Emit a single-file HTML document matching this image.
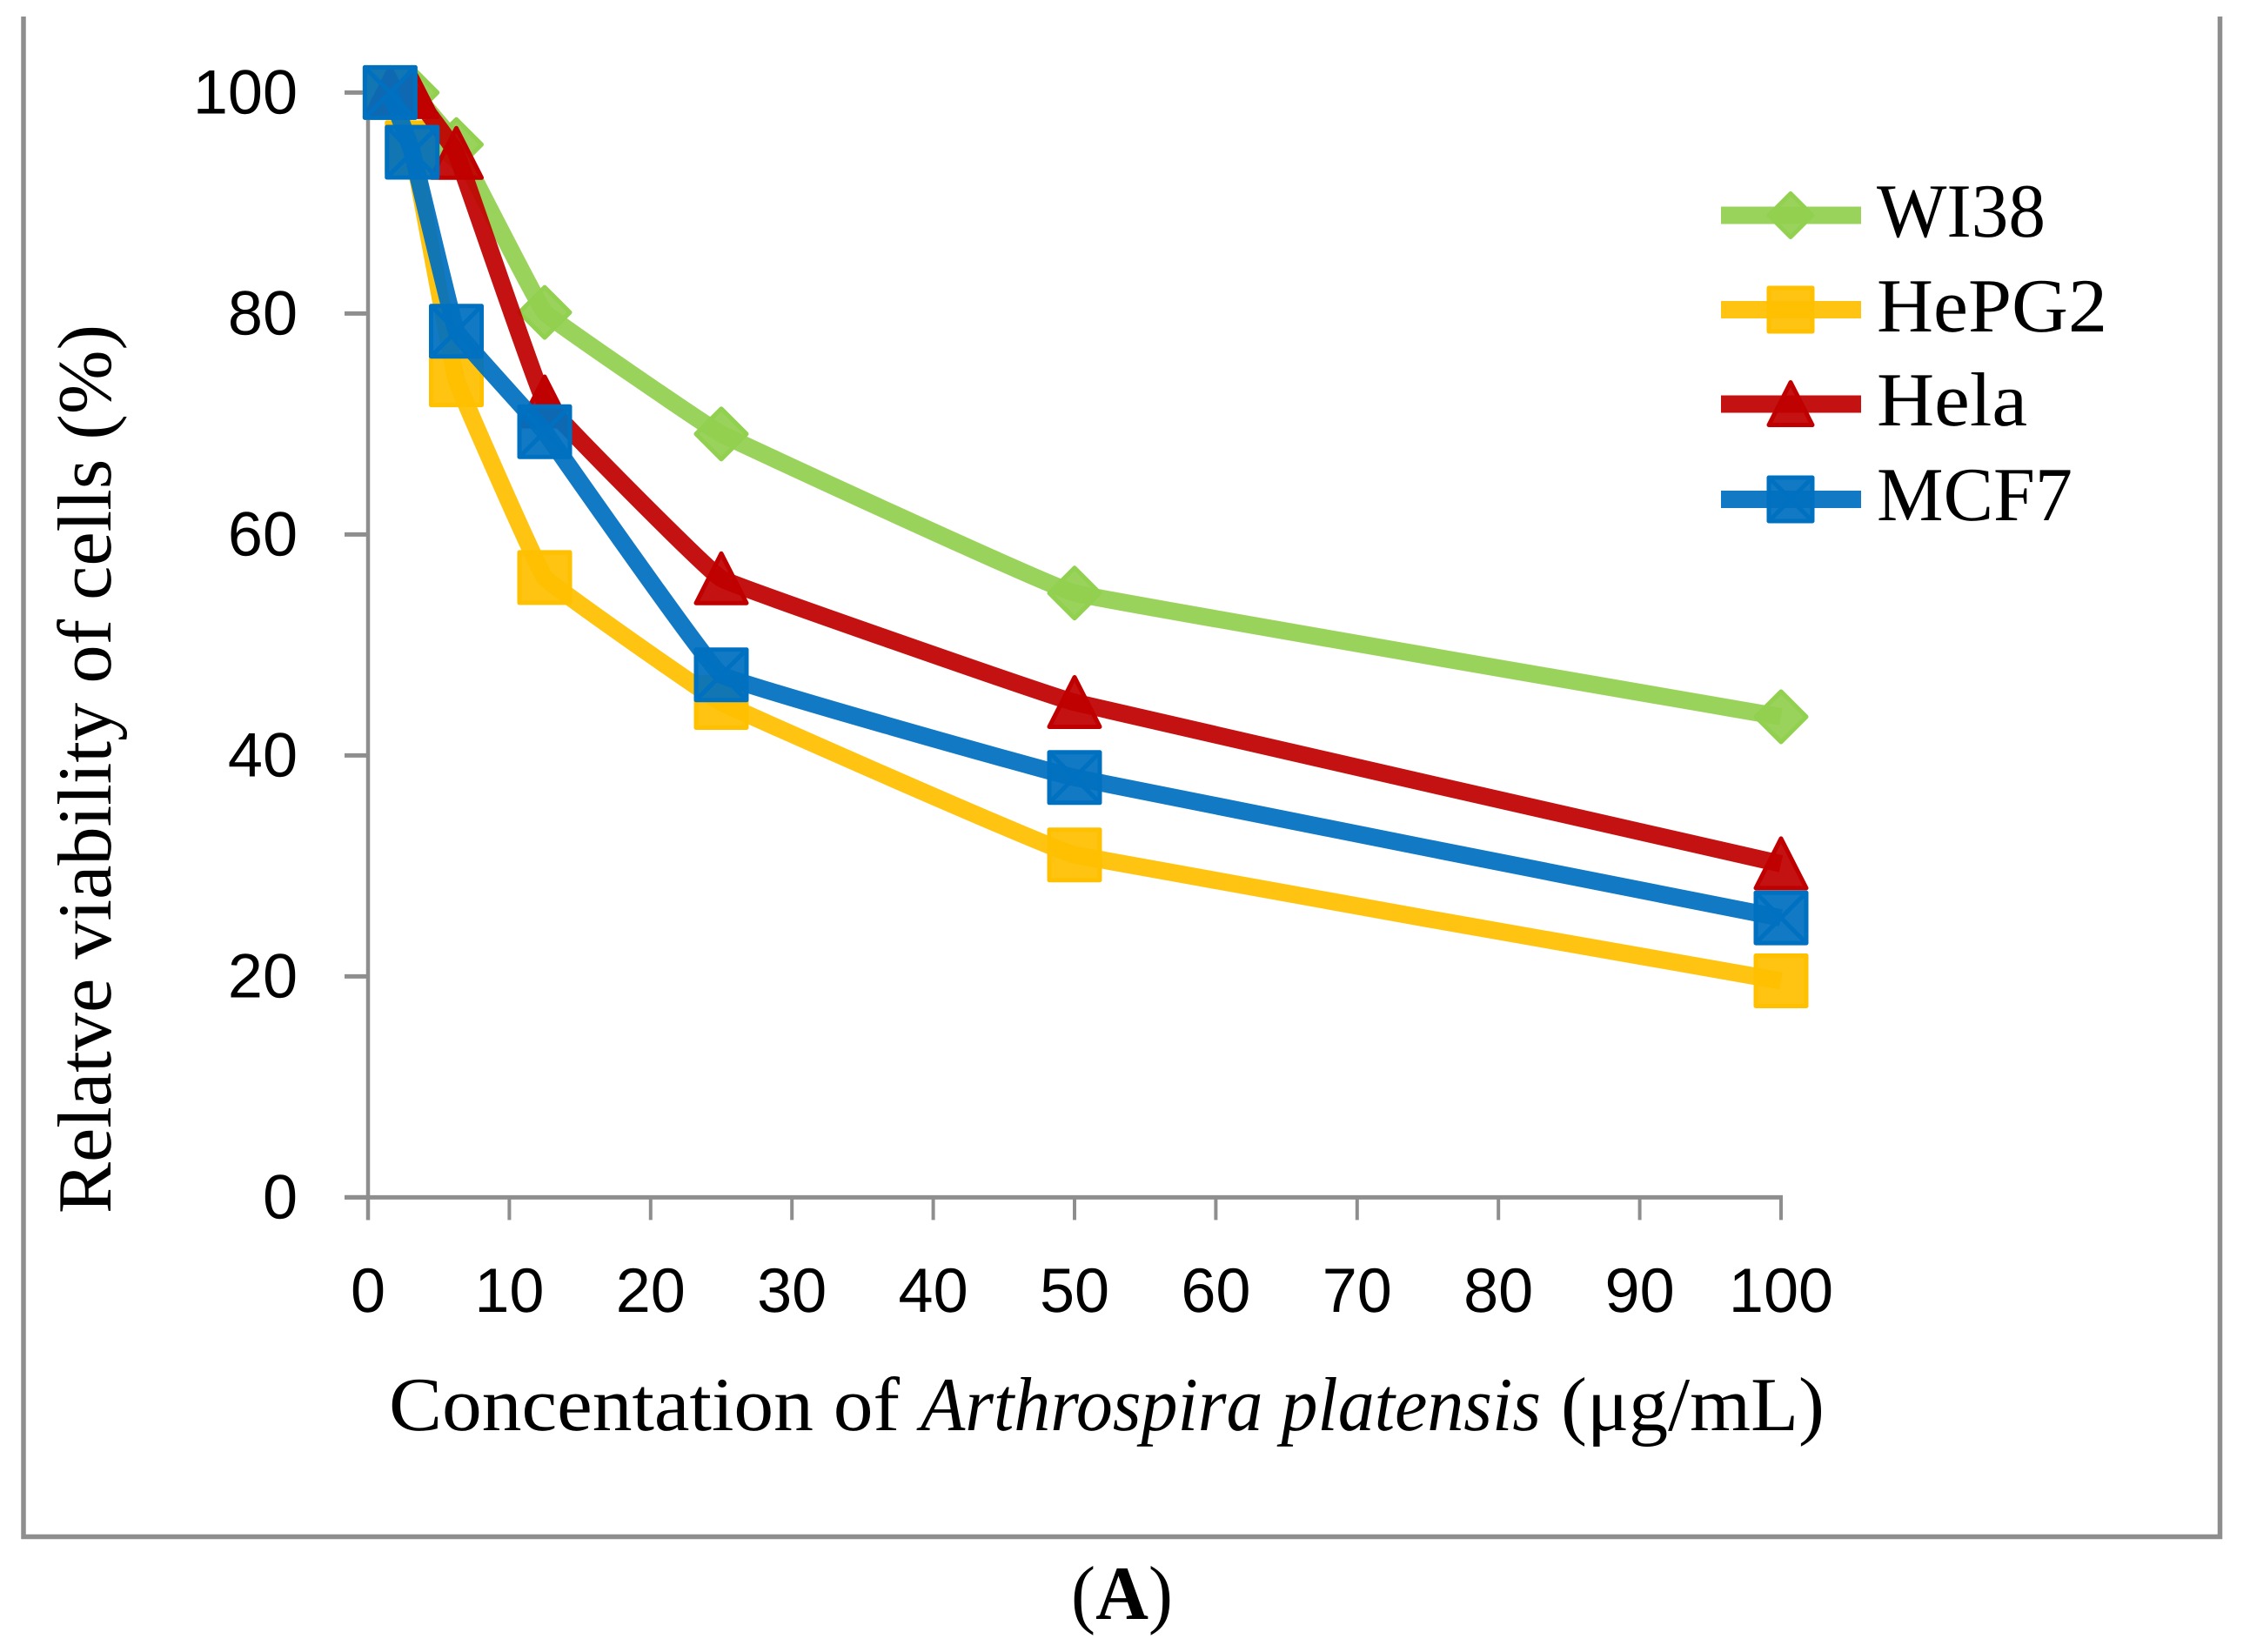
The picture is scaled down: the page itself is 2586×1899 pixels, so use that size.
<!DOCTYPE html>
<html>
<head>
<meta charset="utf-8">
<title>Relative viability of cells</title>
<style>
html,body{margin:0;padding:0;background:#fff;}
svg{display:block;}
text{fill:#000;text-rendering:geometricPrecision;}
.serif{font-family:"Liberation Serif",serif;font-size:88px;}
.sans{font-family:"Liberation Sans",sans-serif;font-size:72px;}
</style>
</head>
<body>
<svg id="chart" xmlns="http://www.w3.org/2000/svg" width="2586" height="1899" viewBox="0 0 2586 1899">
  <rect x="0" y="0" width="2586" height="1899" fill="#fff"/>
  <path d="M27 19V1766.500H2551.500V19" fill="none" stroke="#8e8e8e" stroke-width="5.500"/>
  <g id="axes"></g>
  <g id="series"></g>
  <g id="legend">
    <text class="serif" x="2157" y="272" textLength="194" lengthAdjust="spacingAndGlyphs">WI38</text>
    <text class="serif" x="2157" y="381" textLength="265" lengthAdjust="spacingAndGlyphs">HePG2</text>
    <text class="serif" x="2157" y="489" textLength="173" lengthAdjust="spacingAndGlyphs">Hela</text>
    <text class="serif" x="2157" y="598" textLength="225" lengthAdjust="spacingAndGlyphs">MCF7</text>
  </g>
  <text class="serif" transform="translate(127 1395) rotate(-90)" x="0" y="0" textLength="1022" lengthAdjust="spacingAndGlyphs">Relatve viability of cells (%)</text>
  <g>
    <text class="serif" x="447" y="1644" textLength="587" lengthAdjust="spacingAndGlyphs">Concentation of</text>
    <text class="serif" x="1058" y="1644" font-style="italic" textLength="713" lengthAdjust="spacingAndGlyphs">Arthrospira platensis</text>
    <text class="serif" x="1794" y="1644" textLength="303" lengthAdjust="spacingAndGlyphs">(μg/mL)</text>
  </g>
  <text class="serif" x="1231" y="1861" textLength="117" lengthAdjust="spacingAndGlyphs">(<tspan font-weight="bold">A</tspan>)</text>
</svg>
<script>
const concentrations = [1.56, 3.125, 6.25, 12.5, 25, 50, 100];
const wi38Values = [100, 100, 95.3, 80.1, 69.1, 54.7, 43.5];
const hepg2Values = [100, 95, 74, 56.1, 44.8, 31, 19.6];
const helaValues = [100, 100, 94.5, 72, 56, 44.8, 30.2];
const mcf7Values = [100, 94.6, 78.4, 69.3, 47.3, 38, 25.3];
const xTickLabels = [0, 10, 20, 30, 40, 50, 60, 70, 80, 90, 100];
const yTickLabels = [0, 20, 40, 60, 80, 100];
const seriesNames = ['wi38', 'hepg2', 'hela', 'mcf7'];

const NS = 'http://www.w3.org/2000/svg';
const X0 = 423, X100 = 2047, Y0 = 1376.4, Y100 = 106.4;
const xScale = v => X0 + (X100 - X0) * v / 100;
const yScale = v => Y0 + (Y100 - Y0) * v / 100;
const styles = {
  wi38: {color: '#92d050', kind: 'diamond'},
  hepg2: {color: '#ffc000', kind: 'square'},
  hela: {color: '#c00000', kind: 'triangle'},
  mcf7: {color: '#0070c0', kind: 'xsquare'}
};
const seriesData = {wi38: wi38Values, hepg2: hepg2Values, hela: helaValues, mcf7: mcf7Values};
const LINE_WIDTH = 20, OPACITY = 0.93, SMOOTH = 40;

function make(tag, parent, attrs) {
  const el = document.createElementNS(NS, tag);
  for (const k in attrs) el.setAttribute(k, attrs[k]);
  parent.appendChild(el);
  return el;
}

function drawAxes() {
  const g = document.getElementById('axes');
  const stroke = '#8e8e8e';
  const yLine = make('line', g, {x1: X0, x2: X0, y1: Y100, y2: Y0 + 26, stroke: stroke, 'stroke-width': 4.5});
  
  
  const xLine = make('line', g, {x1: X0 - 27, x2: X100 + 2, y1: Y0, y2: Y0, stroke: stroke, 'stroke-width': 5});
  
  
  xTickLabels.forEach(v => {
    const t = make('line', g, {x1: xScale(v), x2: xScale(v), y1: Y0, y2: Y0 + 26, stroke: stroke, 'stroke-width': 4});
    
    
    const l = make('text', g, {x: xScale(v), y: 1508, 'text-anchor': 'middle', class: 'sans'});
    
    
    l.textContent = v;
  });
  yTickLabels.forEach(v => {
    const t = make('line', g, {x1: X0 - 27, x2: X0, y1: yScale(v), y2: yScale(v), stroke: stroke, 'stroke-width': 5});
    
    
    const l = make('text', g, {x: 342, y: yScale(v) + 24, 'text-anchor': 'end', class: 'sans'});
    
    
    l.textContent = v;
  });
}

function smoothPath(pts) {
  let d = 'M' + pts[0][0].toFixed(1) + ' ' + pts[0][1].toFixed(1);
  for (let i = 0; i < pts.length - 1; i++) {
    const p0 = pts[Math.max(i - 1, 0)], p1 = pts[i], p2 = pts[i + 1], p3 = pts[Math.min(i + 2, pts.length - 1)];
    const c1x = p1[0] + (p2[0] - p0[0]) / SMOOTH, c1y = p1[1] + (p2[1] - p0[1]) / SMOOTH;
    const c2x = p2[0] - (p3[0] - p1[0]) / SMOOTH, c2y = p2[1] - (p3[1] - p1[1]) / SMOOTH;
    const lo = p1[0], hi = p2[0];
    d += 'C' + Math.min(Math.max(c1x, lo), hi).toFixed(1) + ' ' + c1y.toFixed(1) + ' ' +
         Math.min(Math.max(c2x, lo), hi).toFixed(1) + ' ' + c2y.toFixed(1) + ' ' +
         p2[0].toFixed(1) + ' ' + p2[1].toFixed(1);
  }
  return d;
}

function drawMarker(parent, kind, cx, cy, size, color) {
  const h = (size - 5) / 2;
  const common = {fill: color, 'fill-opacity': OPACITY, stroke: color, 'stroke-width': 5, 'stroke-linejoin': 'round'};
  let shape;
  if (kind === 'diamond') {
    shape = make('polygon', parent, Object.assign({points: `${cx},${cy - h} ${cx + h},${cy} ${cx},${cy + h} ${cx - h},${cy}`}, common));
  } else if (kind === 'triangle') {
    shape = make('polygon', parent, Object.assign({points: `${cx},${cy - h} ${cx + h},${cy + h - 1} ${cx - h},${cy + h - 1}`}, common));
  } else {
    shape = make('rect', parent, Object.assign({x: cx - h, y: cy - h, width: 2 * h, height: 2 * h}, common));
    if (kind === 'xsquare') {
      make('path', parent, {d: `M${cx - h} ${cy - h}L${cx + h} ${cy + h}M${cx + h} ${cy - h}L${cx - h} ${cy + h}`, stroke: color, 'stroke-width': 5, fill: 'none'});
    }
  }
  return shape;
}

function drawSeries() {
  const root = document.getElementById('series');
  seriesNames.forEach(name => {
    const st = styles[name];
    const vals = seriesData[name];
    const g = make('g', root, {});
    
    
    const pts = vals.map((v, i) => [xScale(concentrations[i]), yScale(v)]);
    const line = make('path', g, {d: smoothPath(pts), fill: 'none', stroke: st.color, 'stroke-opacity': OPACITY, 'stroke-width': LINE_WIDTH, 'stroke-linejoin': 'round'});
    
    
    pts.forEach((p, i) => {
      const m = make('g', g, {});
      
      
      drawMarker(m, st.kind, p[0], p[1], 63, st.color);
    });
  });
}

function drawLegend() {
  const root = document.getElementById('legend');
  const rowY = [247.5, 356, 464.5, 574];
  seriesNames.forEach((name, i) => {
    const st = styles[name];
    const g = make('g', root, {});
    
    
    make('line', g, {x1: 1978, x2: 2139, y1: rowY[i], y2: rowY[i], stroke: st.color, 'stroke-opacity': OPACITY, 'stroke-width': LINE_WIDTH});
    drawMarker(g, st.kind, 2058, rowY[i], 55, st.color);
  });
}

drawAxes();
drawSeries();
drawLegend();
</script>
</body>
</html>
